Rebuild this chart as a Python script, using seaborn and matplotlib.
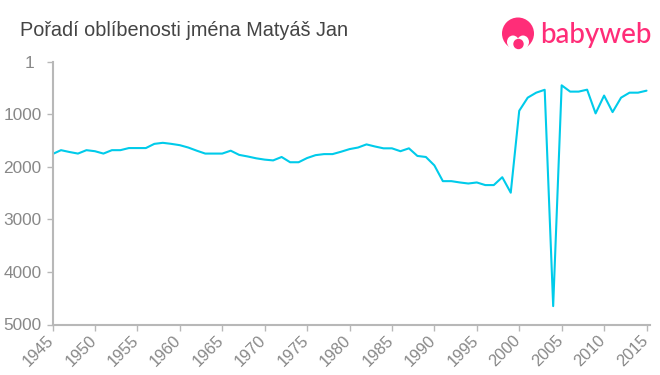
import matplotlib
matplotlib.use("Agg")
import matplotlib.pyplot as plt
from matplotlib.patches import Circle, Ellipse
from matplotlib.transforms import ScaledTranslation
import seaborn as sns
import pandas as pd

years = list(range(1945, 2016))
ranks = [1755, 1680, 1715, 1745, 1680, 1700, 1745, 1680, 1680, 1640,
         1640, 1640, 1560, 1540, 1560, 1585, 1630, 1690, 1745, 1745,
         1745, 1690, 1770, 1800, 1835, 1860, 1875, 1810, 1910, 1910,
         1830, 1775, 1755, 1755, 1710, 1660, 1630, 1570, 1610, 1645,
         1645, 1700, 1645, 1790, 1810, 1970, 2270, 2270, 2295, 2315,
         2295, 2345, 2345, 2195, 2490, 930, 680, 585, 530, 4650,
         445, 565, 565, 528, 980, 640, 955, 680, 585, 585, 547]
y_ticks = [1, 1000, 2000, 3000, 4000, 5000]
x_ticks = list(range(1945, 2016, 5))
title = "Pořadí oblíbenosti jména Matyáš Jan"
brand = "babyweb"

sns.set_theme(style="white")
plt.rcParams['font.family'] = ['Liberation Sans', 'DejaVu Sans']
W, H = 660, 375
fig = plt.figure(figsize=(W / 100, H / 100), dpi=100)
left, right, top, bottom = 52.5, 649.5, 62, 324.5
ax = fig.add_axes([left / W, 1 - bottom / H, (right - left) / W, (bottom - top) / H])
df = pd.DataFrame({"year": years, "rank": ranks})
sns.lineplot(data=df, x="year", y="rank", ax=ax, color="#00cbea", linewidth=1.5, errorbar=None)
ax.set_xlim(1945, 1945 + (right - left) / 8.486)
ax.set_ylim(5000, 1)
ax.set_xlabel("")
ax.set_ylabel("")
ax.set_xticks(x_ticks)
ax.set_yticks(y_ticks)
ax.set_xticklabels([str(v) for v in x_ticks], rotation=45, ha="right", va="center", rotation_mode="anchor")
ax.tick_params(axis="y", length=4, width=1, color="#b8b8b8", labelcolor="#888888", labelsize=12.4, pad=3.8, left=True)
ax.tick_params(axis="x", length=4, width=1, color="#b8b8b8", labelcolor="#888888", labelsize=11.8, pad=5.5, bottom=True)
for s in ("top", "right"):
    ax.spines[s].set_visible(False)
for s in ("left", "bottom"):
    ax.spines[s].set_color("#b8b8b8")
    ax.spines[s].set_linewidth(1.5)

# the "1" label sits further left than the other y labels in the reference
one = ax.get_yticklabels()[0]
one.set_transform(one.get_transform() + ScaledTranslation(-7.5 / 100, 0, fig.dpi_scale_trans))
for lab in ax.get_xticklabels():
    lab.set_transform(lab.get_transform() + ScaledTranslation(-1 / 100, 0, fig.dpi_scale_trans))

fig.text(20 / W, 1 - 30.5 / H, title, color="#444444", fontsize=14.3, va="center", ha="left")

pink = "#ff2d78"
ov = fig.add_axes([0, 0, 1, 1], facecolor="none")
ov.set_xlim(0, W)
ov.set_ylim(H, 0)
ov.axis("off")
ov.add_patch(Circle((518, 33.5), 16, color=pink, lw=0))
ov.add_patch(Ellipse((513, 42), 12, 13, color="white", lw=0))
ov.add_patch(Ellipse((523, 42), 12, 13, color="white", lw=0))
ov.add_patch(Ellipse((518, 48), 20, 8, color="white", lw=0))
ov.add_patch(Circle((518.5, 44), 5.2, color=pink, lw=0))
ov.text(540, 35, brand, color=pink, fontsize=20, family="Lato", weight="medium", va="center", ha="left")
fig.savefig("out.png", dpi=100)
